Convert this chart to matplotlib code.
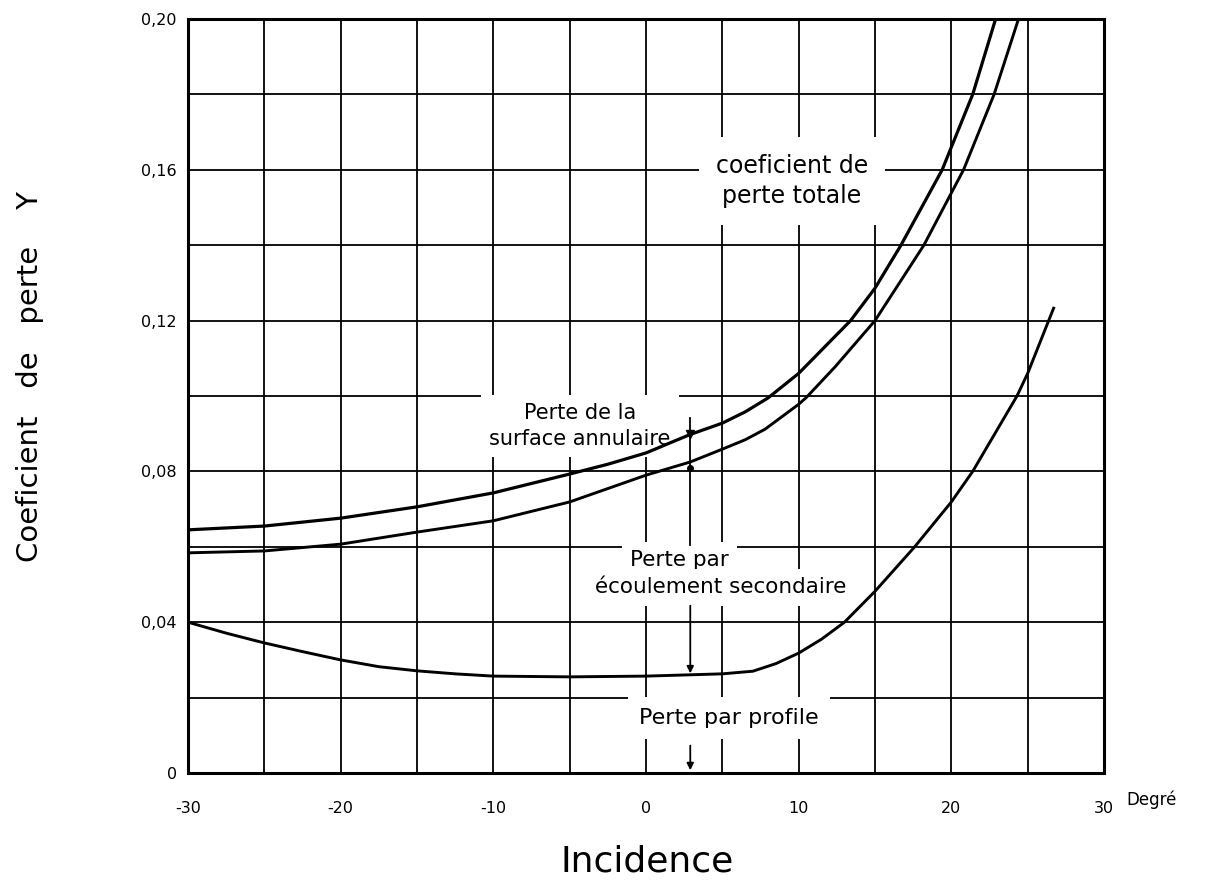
import matplotlib
matplotlib.use("Agg")
import matplotlib.pyplot as plt
from matplotlib.ticker import MultipleLocator

# incidence (degres) / coefficient de perte
x_total = [-30, -25, -20, -15, -10, -5, -2.5, 0, 2.9, 5, 6.5, 8, 10, 13.4, 15, 16.7, 19.4, 21.4, 22.9]
y_total = [0.0645, 0.0655, 0.0676, 0.0706, 0.0743, 0.0793, 0.0819, 0.0849, 0.0898, 0.0928,
           0.0958, 0.0995, 0.106, 0.12, 0.1286, 0.14, 0.16, 0.18, 0.20]

x_second = [-30, -25, -20, -15, -10, -5, 0, 2.9, 5, 6.5, 7.8, 10, 10.5, 12.4, 15, 18.2, 20.8, 22.8, 24.4]
y_second = [0.0584, 0.0589, 0.0607, 0.0639, 0.0669, 0.0719, 0.079, 0.0825, 0.0859, 0.0884,
            0.0912, 0.0978, 0.0996, 0.1078, 0.12, 0.14, 0.16, 0.18, 0.20]

x_profil = [-30, -27.5, -25, -22.5, -20, -17.5, -15, -12.5, -10, -5, 0, 5, 7, 8.5, 10, 11.5, 13,
            15, 17.6, 20, 21.4, 24.3, 25, 26.7]
y_profil = [0.040, 0.0371, 0.0345, 0.0322, 0.0300, 0.0282, 0.0271, 0.0263, 0.0257, 0.0255,
            0.0257, 0.0263, 0.0270, 0.0290, 0.0318, 0.0355, 0.040, 0.0482, 0.060, 0.0719,
            0.080, 0.100, 0.106, 0.1233]

# ligne de cote a i = 2,9
x_cote = 2.9
y_cote_haut = [0.0942, 0.0605]
y_cote_sec = [0.0451, 0.0257]
y_cote_prof = [0.008, 0.0]

x_ticks = [-30, -20, -10, 0, 10, 20, 30]
x_labels = ['-30', '-20', '-10', '0', '10', '20', '30']
y_ticks = [0, 0.04, 0.08, 0.12, 0.16, 0.20]
y_labels = ['0', '0,04', '0,08', '0,12', '0,16', '0,20']

W, H = 1220, 886
fig = plt.figure(figsize=(W / 100, H / 100), dpi=100)
ax = fig.add_axes([188 / W, 1 - 773 / H, (1104 - 188) / W, (773 - 19) / H])

ax.plot(x_total, y_total, color='black', lw=2.3, zorder=4, solid_joinstyle='round')
ax.plot(x_second, y_second, color='black', lw=2.1, zorder=4, solid_joinstyle='round')
ax.plot(x_profil, y_profil, color='black', lw=2.1, zorder=4, solid_joinstyle='round')

ax.set_xlim(-30, 30)
ax.set_ylim(0, 0.20)
ax.set_xticks(x_ticks)
ax.set_xticklabels(x_labels)
ax.set_yticks(y_ticks)
ax.set_yticklabels(y_labels)
ax.xaxis.set_minor_locator(MultipleLocator(5))
ax.yaxis.set_minor_locator(MultipleLocator(0.02))
ax.tick_params(which='both', length=0)
ax.tick_params(axis='x', pad=20, labelsize=11.5)
ax.tick_params(axis='y', pad=8, labelsize=11.5)
ax.set_axisbelow(True)
ax.grid(which='both', color='black', lw=1.3)
for s in ax.spines.values():
    s.set_linewidth(2.2)

# cotes
ax.plot([x_cote, x_cote], y_cote_haut, color='black', lw=1.3, zorder=3)
ax.plot([x_cote], [0.0898], marker='v', color='black', ms=6, zorder=5)
ax.plot([x_cote], [0.081], marker='o', color='black', ms=4, zorder=5)
ax.annotate('', xy=(x_cote, y_cote_sec[1]), xytext=(x_cote, y_cote_sec[0]),
            arrowprops=dict(arrowstyle='-|>', color='black', lw=1.3, mutation_scale=10), zorder=5)
ax.annotate('', xy=(x_cote, y_cote_prof[1]), xytext=(x_cote, y_cote_prof[0]),
            arrowprops=dict(arrowstyle='-|>', color='black', lw=1.3, mutation_scale=10), zorder=5)

box = dict(facecolor='white', edgecolor='none', pad=6)
ax.text(9.55, 0.157, 'coeficient de\nperte totale', ha='center', va='center',
        fontsize=17, linespacing=1.35, bbox=dict(facecolor='white', edgecolor='none', pad=12), zorder=2)
ax.text(-4.33, 0.092, 'Perte de la\nsurface annulaire', ha='center', va='center',
        fontsize=15, linespacing=1.35, bbox=box, zorder=2)
ax.text(-1.05, 0.0565, 'Perte par', ha='left', va='center', fontsize=15.5, bbox=box, zorder=2)
ax.text(-3.35, 0.0493, 'écoulement secondaire', ha='left', va='center', fontsize=15.5,
        bbox=box, zorder=2)
ax.text(5.43, 0.0146, 'Perte par profile', ha='center', va='center', fontsize=16,
        bbox=dict(facecolor='white', edgecolor='none', pad=8), zorder=2)

ax.annotate('Degré', xy=(30, 0), xytext=(16, -19), textcoords='offset points',
            ha='left', va='center', fontsize=12)

fig.text(647 / W, 1 - 862 / H, 'Incidence', ha='center', va='center', fontsize=26)
fig.text(30 / W, 1 - 377 / H, 'Coeficient   de   perte    Y', rotation=90,
         ha='center', va='center', fontsize=21)

fig.savefig('out.png', dpi=100, facecolor='white')
